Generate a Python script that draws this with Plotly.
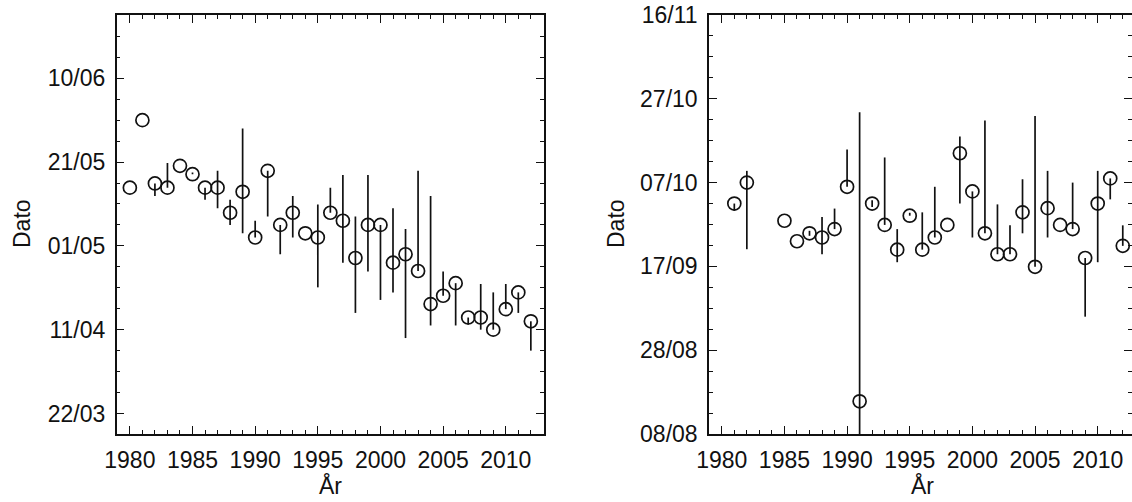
import plotly.graph_objects as go

# ---- Left panel (spring dates, day-of-year) ----
years_left = list(range(1980, 2013))
spring_day = [134.9, 151.0, 135.9, 134.9, 140.1, 138.1, 134.9, 134.9, 128.9, 133.9,
              123.0, 138.9, 126.0, 128.9, 124.0, 123.0, 128.9, 127.0, 118.1, 126.0,
              126.0, 117.0, 119.0, 115.0, 107.1, 109.1, 112.1, 103.9, 103.9, 101.0,
              105.9, 109.9, 103.0]
spring_hi = [134.9, 151.0, 135.9, 140.8, 140.1, 138.5, 134.9, 138.9, 132.0, 149.0,
             127.0, 138.9, 126.0, 132.9, 124.0, 130.9, 134.9, 137.9, 128.0, 137.9,
             126.0, 130.0, 125.0, 138.9, 132.9, 114.9, 112.1, 103.9, 111.9, 109.9,
             111.9, 109.9, 103.0]
spring_lo = [134.9, 151.0, 132.9, 134.9, 140.1, 138.1, 132.0, 130.0, 126.0, 124.0,
             123.0, 128.0, 119.0, 123.0, 124.0, 111.1, 128.9, 117.0, 105.0, 114.9,
             108.1, 109.9, 99.0, 115.0, 102.0, 109.1, 102.0, 102.2, 101.0, 101.0,
             105.9, 105.0, 96.0]
left_tickvals = [81, 101, 121, 141, 161]
left_ticktext = ["22/03", "11/04", "01/05", "21/05", "10/06"]

# ---- Right panel (autumn dates, day-of-year) ----
years_right = [1981, 1982, 1985, 1986, 1987, 1988, 1989, 1990, 1991, 1992, 1993,
               1994, 1995, 1996, 1997, 1998, 1999, 2000, 2001, 2002, 2003, 2004,
               2005, 2006, 2007, 2008, 2009, 2010, 2011, 2012]
autumn_day = [275.0, 280.0, 270.9, 266.0, 267.9, 266.9, 268.9, 279.0, 227.8, 275.0,
              269.9, 264.0, 272.1, 264.0, 266.9, 269.9, 287.0, 277.9, 267.9, 262.9,
              262.9, 272.9, 259.9, 273.9, 269.9, 268.9, 262.0, 275.0, 281.0, 264.9]
autumn_hi = [275.0, 282.8, 270.9, 266.0, 268.5, 271.8, 273.8, 287.9, 296.8, 275.8,
             286.0, 268.9, 272.8, 272.9, 279.0, 269.9, 291.0, 277.9, 294.8, 274.8,
             269.8, 280.8, 295.9, 282.8, 269.9, 280.0, 262.0, 282.8, 281.0, 269.8]
autumn_lo = [273.3, 264.1, 270.9, 266.0, 267.3, 262.9, 268.9, 279.0, 217.7, 274.2,
             269.9, 261.0, 272.1, 264.0, 266.9, 269.9, 275.0, 266.9, 267.9, 262.9,
             262.9, 267.9, 259.9, 266.9, 269.9, 268.9, 248.0, 261.0, 276.0, 264.9]
right_tickvals = [220, 240, 260, 280, 300, 320]
right_ticktext = ["08/08", "28/08", "17/09", "07/10", "27/10", "16/11"]

year_tickvals = [1980, 1985, 1990, 1995, 2000, 2005, 2010]

W, H = 1132, 502
FONT = "Liberation Sans, Arial, Helvetica, sans-serif"
BLACK = "#111111"
FS = 23


def panel_trace(xs, ys, hi, lo, xa, ya, clip=True):
    return go.Scatter(
        x=xs, y=ys, mode="markers", xaxis=xa, yaxis=ya, showlegend=False,
        cliponaxis=clip,
        marker=dict(symbol="circle-open", size=13, color=BLACK,
                    line=dict(width=1.7, color=BLACK)),
        error_y=dict(type="data", symmetric=False,
                     array=[h - v for h, v in zip(hi, ys)],
                     arrayminus=[v - l for v, l in zip(ys, lo)],
                     width=0, thickness=1.7, color=BLACK),
    )


fig = go.Figure()
fig.add_trace(panel_trace(years_left, spring_day, spring_hi, spring_lo, "x", "y"))
fig.add_trace(panel_trace(years_right, autumn_day, autumn_hi, autumn_lo, "x2", "y2",
                          clip=False))

axis_common = dict(
    showline=True, linecolor=BLACK, linewidth=1.5, mirror="allticks",
    ticks="inside", ticklen=8, tickwidth=1.3, tickcolor=BLACK,
    showgrid=False, zeroline=False, automargin=False,
    tickfont=dict(family=FONT, size=FS, color=BLACK),
)
minor_x = dict(dtick=1, tick0=1980, ticks="inside", ticklen=4, tickwidth=1.2,
               tickcolor=BLACK, showgrid=False)
minor_y = dict(dtick=5, ticks="inside", ticklen=4, tickwidth=1.2,
               tickcolor=BLACK, showgrid=False)

left_px = (116.7, 544.0)
right_px = (709.0, 1132.0)
px_per_year = (544.0 - 116.7) / (2013.05 - 1978.95)

fig.update_layout(
    width=W, height=H,
    margin=dict(l=0, r=0, t=15, b=68),
    paper_bgcolor="white", plot_bgcolor="white",
    xaxis=dict(domain=[left_px[0] / W, left_px[1] / W], range=[1978.95, 2013.05],
               tickvals=year_tickvals, anchor="y", minor=minor_x,
               ticklabelstandoff=5, **axis_common),
    yaxis=dict(domain=[0, 1], range=[76.1, 176.1], tickvals=left_tickvals,
               ticktext=left_ticktext, anchor="x",
               minor=dict(tick0=81, **minor_y), ticklabelstandoff=5, **axis_common),
    xaxis2=dict(domain=[right_px[0] / W, 1.0],
                range=[1978.98, 1978.98 + (right_px[1] - right_px[0]) / px_per_year],
                tickvals=year_tickvals, anchor="y2", minor=minor_x,
                ticklabelstandoff=5, **axis_common),
    yaxis2=dict(domain=[0, 1], range=[220, 320], tickvals=right_tickvals,
                ticktext=right_ticktext, anchor="x2",
                minor=dict(tick0=220, **minor_y), ticklabelstandoff=5, **axis_common),
)

title_font = dict(family=FONT, size=FS, color=BLACK)
plot_h = H - 15 - 68


def py(ypx):
    return (H - 68 - ypx) / plot_h


for xpx in (22, 616):
    fig.add_annotation(text="Dato", xref="paper", yref="paper", x=xpx / W, y=py(224),
                       showarrow=False, textangle=-90, font=title_font,
                       xanchor="center", yanchor="middle")
for xpx in (330, 922):
    fig.add_annotation(text="År", xref="paper", yref="paper", x=xpx / W, y=py(501),
                       showarrow=False, font=title_font,
                       xanchor="center", yanchor="bottom")

fig.write_html("out.html")
